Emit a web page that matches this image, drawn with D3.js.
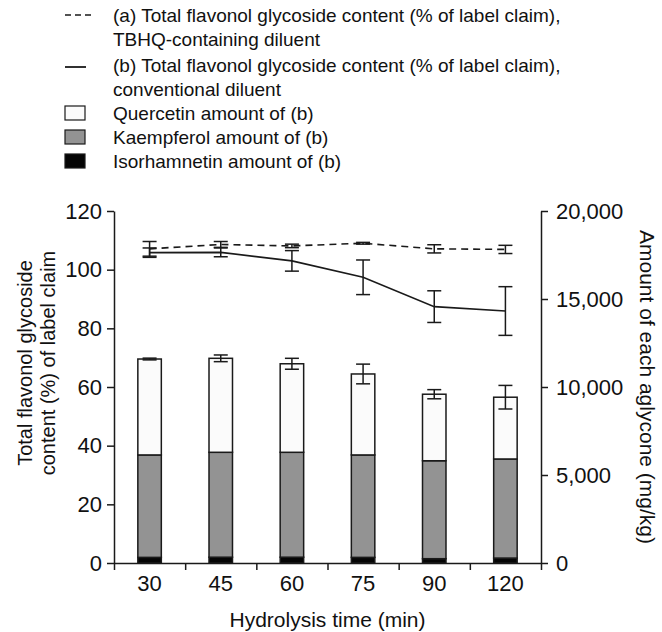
<!DOCTYPE html>
<html>
<head>
<meta charset="utf-8">
<script src="https://cdn.jsdelivr.net/npm/d3@7"></script>
<style>
  body { margin: 0; background: #fff; }
  svg text { font-family: "Liberation Sans", Arial, sans-serif; fill: #111; }
</style>
</head>
<body>
<svg id="chartSVG" width="662" height="632"></svg>
<script>
/* ---------- Data ---------- */
const hydrolysisTimes = ["30", "45", "60", "75", "90", "120"];

// (a) and (b) total flavonol glycoside content, % of label claim
const totalTBHQ = [107.1, 108.6, 108.1, 109.0, 107.1, 106.9];
const totalTBHQErr = [2.5, 1.0, 0.6, 0.3, 1.4, 1.4];
const totalConventional = [105.8, 105.9, 103.0, 97.4, 87.4, 85.9];
const totalConventionalErr = [1.6, 1.5, 3.5, 5.9, 5.4, 8.3];

// aglycone amounts of (b), mg/kg
const isorhamnetin = [320, 330, 330, 320, 245, 280];
const kaempferol = [5820, 5960, 5960, 5820, 5565, 5630];
const quercetin = [5450, 5340, 5030, 4600, 3780, 3510];
const aglyconeErr = [50, 190, 310, 560, 260, 670];

const leftTicks = [0, 20, 40, 60, 80, 100, 120];
const rightTicks = [0, 5000, 10000, 15000, 20000];

/* ---------- Layout ---------- */
const plotLeft = 114, plotRight = 541, plotTop = 211, plotBottom = 563;
const ink = "#1a1a1a";
const capHalf = 7;

var svg = d3.select("#chartSVG");

/* ---------- Scales and Axis ---------- */
var x = d3.scaleBand().domain(hydrolysisTimes).range([plotLeft, plotRight]);
var xBound = d3.scaleLinear().domain([0, hydrolysisTimes.length]).range([plotLeft, plotRight]);
var yLeft = d3.scaleLinear().domain([0, 120]).range([plotBottom, plotTop]);
var yRight = d3.scaleLinear().domain([0, 20000]).range([plotBottom, plotTop]);
var cx = d => x(d) + x.bandwidth() / 2;
var barW = x.bandwidth() * 0.33;

/* ---------- Stacked bars ---------- */
var stackRows = hydrolysisTimes.map((t, i) => ({
    time: t, iso: isorhamnetin[i], kae: kaempferol[i], que: quercetin[i]
}));
var stacked = d3.stack().keys(["iso", "kae", "que"])(stackRows);
var fills = { iso: "#050505", kae: "#939393", que: "#fbfbfb" };

stacked.forEach(layer => {
    svg.append("g").selectAll("rect")
        .data(layer)
        .join("rect")
        .attr("x", d => cx(d.data.time) - barW / 2)
        .attr("width", barW)
        .attr("y", d => yRight(d[1]))
        .attr("height", d => yRight(d[0]) - yRight(d[1]))
        .attr("fill", fills[layer.key])
        .attr("stroke", ink)
        .attr("stroke-width", 1.5);
});

// error bars on bar totals
var barTops = hydrolysisTimes.map((t, i) => ({
    time: t, v: isorhamnetin[i] + kaempferol[i] + quercetin[i], e: aglyconeErr[i]
}));
var drawErr = function(g, data, scale) {
    data.forEach(d => {
        var px = cx(d.time);
        var y1 = scale(d.v + d.e), y2 = scale(d.v - d.e);
        g.append("line").attr("x1", px).attr("x2", px).attr("y1", y1).attr("y2", y2);
        g.append("line").attr("x1", px - capHalf).attr("x2", px + capHalf).attr("y1", y1).attr("y2", y1);
        g.append("line").attr("x1", px - capHalf).attr("x2", px + capHalf).attr("y1", y2).attr("y2", y2);
    });
    g.attr("stroke", ink).attr("stroke-width", 1.5);
};
drawErr(svg.append("g"), barTops, yRight);

/* ---------- Lines ---------- */
var lineGen = d3.line().x(d => cx(d.time)).y(d => yLeft(d.v));
var rowsA = hydrolysisTimes.map((t, i) => ({ time: t, v: totalTBHQ[i], e: totalTBHQErr[i] }));
var rowsB = hydrolysisTimes.map((t, i) => ({ time: t, v: totalConventional[i], e: totalConventionalErr[i] }));

svg.append("path").datum(rowsA)
    .attr("d", lineGen)
    .attr("fill", "none")
    .attr("stroke", ink)
    .attr("stroke-width", 1.6)
    .attr("stroke-dasharray", "7,5");
svg.append("path").datum(rowsB)
    .attr("d", lineGen)
    .attr("fill", "none")
    .attr("stroke", ink)
    .attr("stroke-width", 1.6);
drawErr(svg.append("g"), rowsA, yLeft);
drawErr(svg.append("g"), rowsB, yLeft);

/* ---------- Axes ---------- */
var styleAxis = function(g) {
    g.select(".domain").attr("stroke", ink).attr("stroke-width", 1.5);
    g.selectAll(".tick line").attr("stroke", ink).attr("stroke-width", 1.5);
    g.selectAll(".tick text").style("font-size", "22px").attr("fill", "#111");
};

svg.append("g")
    .attr("transform", "translate(" + plotLeft + ",0)")
    .call(d3.axisLeft(yLeft).tickValues(leftTicks).tickSize(7).tickPadding(5).tickSizeOuter(0))
    .call(styleAxis);

svg.append("g")
    .attr("transform", "translate(" + plotRight + ",0)")
    .call(d3.axisRight(yRight).tickValues(rightTicks).tickFormat(d3.format(",")).tickSize(7).tickPadding(8).tickSizeOuter(0))
    .call(styleAxis);

// boundary ticks along the bottom
svg.append("g")
    .attr("transform", "translate(0," + plotBottom + ")")
    .call(d3.axisBottom(xBound).tickValues(d3.range(hydrolysisTimes.length + 1)).tickFormat("").tickSize(7).tickSizeOuter(0))
    .call(styleAxis);
// category labels
svg.append("g")
    .attr("transform", "translate(0," + plotBottom + ")")
    .call(d3.axisBottom(x).tickSize(0).tickPadding(12))
    .call(g => g.select(".domain").remove())
    .call(styleAxis);

/* ---------- Axis Caption ---------- */
svg.append("text")
    .text("Hydrolysis time (min)")
    .attr("x", (plotLeft + plotRight) / 2)
    .attr("y", 627)
    .attr("text-anchor", "middle")
    .style("font-size", "21px");

var yTitle = svg.append("text")
    .attr("text-anchor", "middle")
    .attr("transform", "translate(32,363) rotate(-90)")
    .style("font-size", "20px");
yTitle.append("tspan").attr("x", 0).attr("dy", 0).text("Total flavonol glycoside");
yTitle.append("tspan").attr("x", 0).attr("dy", 23).text("content (%) of label claim");

svg.append("text")
    .text("Amount of each aglycone (mg/kg)")
    .attr("text-anchor", "middle")
    .attr("transform", "translate(640,387) rotate(90)")
    .style("font-size", "21px");

/* ---------- Legend ---------- */
var legend = svg.append("g");
var textX = 113;
var legendText = [
    ["(a) Total flavonol glycoside content (% of label claim),", 15],
    ["TBHQ-containing diluent", 39],
    ["(b) Total flavonol glycoside content (% of label claim),", 65],
    ["conventional diluent", 89],
    ["Quercetin amount of (b)", 113],
    ["Kaempferol amount of (b)", 137],
    ["Isorhamnetin amount of (b)", 161]
];
legendText.forEach(r => {
    legend.append("text")
        .text(r[0])
        .attr("x", textX)
        .attr("y", r[1])
        .attr("dy", "0.35em")
        .style("font-size", "19px");
});
legend.append("line").attr("x1", 65).attr("x2", 92).attr("y1", 15).attr("y2", 15)
    .attr("stroke", ink).attr("stroke-width", 1.5).attr("stroke-dasharray", "6,4");
legend.append("line").attr("x1", 65).attr("x2", 86).attr("y1", 67).attr("y2", 67)
    .attr("stroke", ink).attr("stroke-width", 1.8);
[["que", 113], ["kae", 137], ["iso", 161]].forEach(r => {
    legend.append("rect")
        .attr("x", 65).attr("y", r[1] - 7)
        .attr("width", 20).attr("height", 14)
        .attr("fill", fills[r[0]])
        .attr("stroke", ink)
        .attr("stroke-width", 1.2);
});
</script>
</body>
</html>
